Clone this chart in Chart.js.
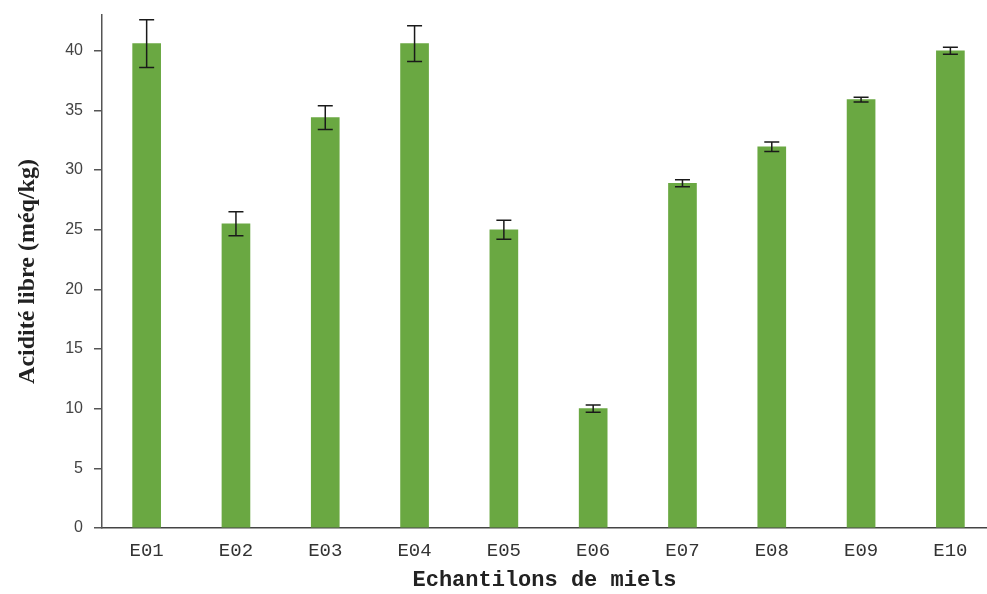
<!DOCTYPE html>
<html>
<head>
<meta charset="utf-8">
<script src="https://cdn.jsdelivr.net/npm/chart.js@4.4.0/dist/chart.umd.min.js"></script>
<style>
html,body{margin:0;padding:0;background:#fff;}
canvas{display:block;}
</style>
</head>
<body>
<canvas id="c" width="987" height="594"></canvas>
<script>
const categories = ["E01","E02","E03","E04","E05","E06","E07","E08","E09","E10"];
const acidity = [40.6, 25.5, 34.4, 40.6, 25.0, 10.0, 28.9, 31.95, 35.9, 40.0];
const errors  = [2.0, 1.0, 1.0, 1.5, 0.8, 0.3, 0.3, 0.4, 0.2, 0.3];
const yTicks  = [0, 5, 10, 15, 20, 25, 30, 35, 40];

const errorBarPlugin = {
  id: 'errorBars',
  afterDatasetsDraw(chart) {
    const ctx = chart.ctx;
    const xs = chart.scales.x, ys = chart.scales.y;
    ctx.save();
    ctx.strokeStyle = '#1a1a1a';
    ctx.lineWidth = 1.5;
    acidity.forEach((v, i) => {
      const x = xs.getPixelForValue(i);
      const yt = ys.getPixelForValue(v + errors[i]);
      const yb = ys.getPixelForValue(v - errors[i]);
      const cap = 7.5;
      ctx.beginPath();
      ctx.moveTo(x, yt); ctx.lineTo(x, yb);
      ctx.moveTo(x - cap, yt); ctx.lineTo(x + cap, yt);
      ctx.moveTo(x - cap, yb); ctx.lineTo(x + cap, yb);
      ctx.stroke();
    });
    ctx.restore();
  }
};

new Chart(document.getElementById('c'), {
  type: 'bar',
  data: {
    datasets: [{
      data: acidity.map((v, i) => ({x: i, y: v})),
      backgroundColor: '#6aa842',
      borderWidth: 0,
      barThickness: 28
    }]
  },
  options: {
    responsive: false,
    animation: false,
    layout: {padding: {top: 15, right: 0, left: 0, bottom: 0}},
    plugins: {legend: {display: false}, tooltip: {enabled: false}},
    scales: {
      x: {
        type: 'linear',
        offset: false,
        min: -0.5,
        max: 9.41,
        grid: {display: false, drawTicks: false},
        border: {display: true, color: '#444', width: 1.5},
        afterBuildTicks: s => { s.ticks = categories.map((c, i) => ({value: i})); },
        afterFit: s => { s.height = 66; s.paddingLeft = 0; s.paddingRight = 0; },
        ticks: {
          autoSkip: false,
          maxRotation: 0,
          padding: 12,
          color: '#333',
          font: {family: 'Liberation Mono', size: 19},
          callback: v => categories[v]
        },
        title: {
          display: true,
          text: 'Echantilons de miels',
          color: '#222',
          font: {family: 'Liberation Mono', size: 22, weight: 'bold'},
          padding: {top: 4, bottom: 0}
        }
      },
      y: {
        min: 0,
        max: 43,
        grid: {display: true, drawOnChartArea: false, drawTicks: true, tickLength: 8, color: '#555', lineWidth: 1.5},
        border: {display: true, color: '#555', width: 1.5},
        afterBuildTicks: s => { s.ticks = yTicks.map(v => ({value: v})); },
        afterFit: s => { s.width = 102; s.paddingTop = 0; s.paddingBottom = 0; },
        ticks: {
          padding: 11,
          color: '#444',
          font: {family: 'Liberation Sans', size: 16}
        },
        title: {
          display: true,
          text: 'Acidité libre (méq/kg)',
          color: '#222',
          font: {family: 'Liberation Serif', size: 24, weight: 'bold'},
          padding: {top: 13, bottom: 0}
        }
      }
    }
  },
  plugins: [errorBarPlugin]
});
</script>
</body>
</html>
